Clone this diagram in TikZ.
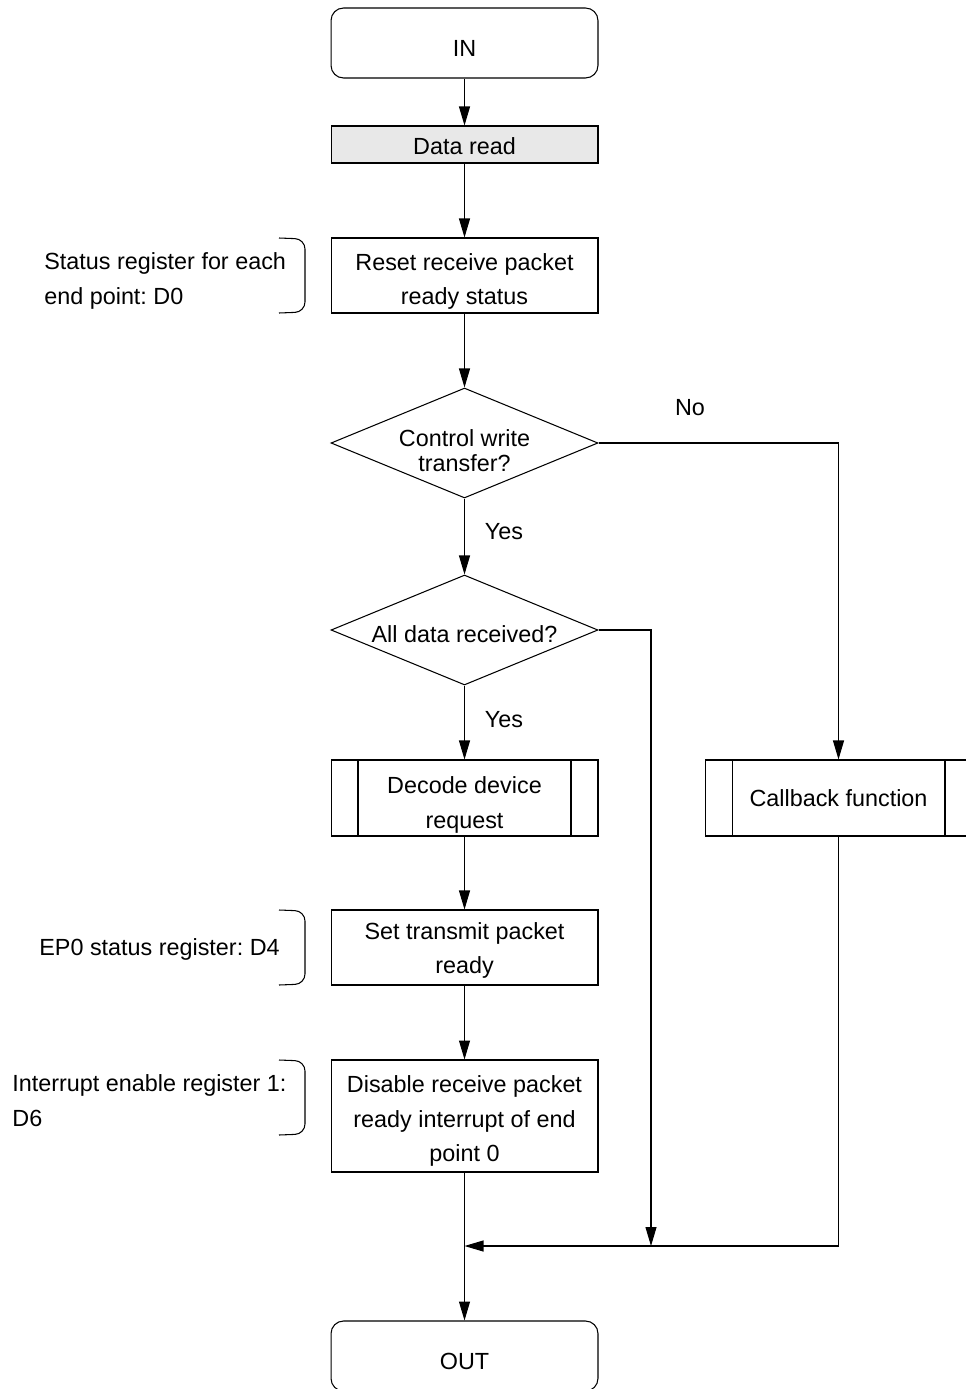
\documentclass[tikz,border=0pt]{standalone}
\usepackage{fontspec}
\setmainfont{Liberation Sans}
\usetikzlibrary{positioning}
\usetikzlibrary{arrows.meta}
\usetikzlibrary{shapes.geometric}
\definecolor{readgray}{RGB}{232,232,232}
\newcommand{\lifted}[1]{\rule{0pt}{#1}}

\begin{document}
\frenchspacing
\begin{tikzpicture}[x=0.02cm, y=-0.02cm, line width=0.6pt, >={Triangle[length=0.38cm,width=0.22cm]},
lift/.style={execute at begin node={\lifted{#1}}},
term/.style={draw, rectangle, rounded corners=0.25cm, minimum width=5.34cm, minimum height=1.4cm, lift=1.15em, font=\fontsize{13.3}{19.8}\selectfont},
box/.style={draw, rectangle, minimum width=5.34cm, minimum height=#1, inner sep=1pt, align=center, font=\fontsize{13.3}{19.8}\selectfont},
sub/.style={box=#1, path picture={
  \draw ([xshift=0.54cm]path picture bounding box.north west) -- ([xshift=0.54cm]path picture bounding box.south west);
  \draw ([xshift=-0.54cm]path picture bounding box.north east) -- ([xshift=-0.54cm]path picture bounding box.south east);}},
dec/.style={draw, diamond, shape aspect=2.43, minimum width=5.34cm, minimum height=2.2cm, inner sep=-3pt, align=center, font=\fontsize{13.3}{14.2}\selectfont},
note/.style={anchor=west, align=left, font=\fontsize{13.3}{19.8}\selectfont},
lbl/.style={font=\fontsize{13.3}{19.8}\selectfont}]

\useasboundingbox (0,0) rectangle (965,1389);

% main column
\node [term] (in) at (464.5,43) {IN};
\node [box=0.74cm, fill=readgray, lift=0.89em] (read) at (464.5,144.5) {Data read};
\node [box=1.5cm] (reset) at (464.5,275.5) {\lifted{1.23em}Reset receive packet\\ready status};
\node [dec] (ctrl) at (464.5,443) {\lifted{1.4em}Control write\\transfer?};
\node [dec, lift=1.06em] (alldata) at (464.5,630) {All data received?};
\node [sub=1.52cm] (decode) at (464.5,798) {\lifted{1.32em}Decode device\\request};
\node [box=1.5cm] (transmit) at (464.5,947.5) {\lifted{0.98em}Set transmit packet\\ready};
\node [box=2.24cm] (disable) at (464.5,1116) {\lifted{1.15em}Disable receive packet\\ready interrupt of end\\point 0};
\node [term] (out) at (464.5,1356) {OUT};

% right branch
\node [sub=1.52cm] (callback) at (838.5,798) {Callback function};

% labels
\node [lbl] (no) at (690,408) {No};
\node [lbl] (yes1) at (504,532) {Yes};
\node [lbl] (yes2) at (504,720) {Yes};

% notes
\node [note] (n1) at (38,279.5) {\lifted{0.85em}Status register for each\\end point: D0};
\node [note, lift=0.9em] (n2) at (33,947.5) {EP0 status register: D4};
\node [note] (n3) at (6,1100.5) {Interrupt enable register 1:\\D6};

\draw [rounded corners=0.2cm] (279,238) -- (305,239) -- (305,312) -- (279,313);
\draw [rounded corners=0.2cm] (279,910) -- (305,911) -- (305,984) -- (279,985);
\draw [rounded corners=0.2cm] (279,1060) -- (305,1061) -- (305,1134) -- (279,1135);

% joints
\coordinate (c1) at (838.5,443);
\coordinate (a1) at (651,630);
\coordinate (a2) at (651,1246);
\coordinate (b1) at (838.5,1246);
\coordinate (m) at (464.5,1246);

% flow
\draw [->] (in) -- (read);
\draw [->] (read) -- (reset);
\draw [->] (reset) -- (ctrl);
\draw [->] (ctrl) -- (alldata);
\draw [->] (alldata) -- (decode);
\draw [->] (decode) -- (transmit);
\draw [->] (transmit) -- (disable);
\draw [->] (disable) -- (out);

\draw [->] (ctrl.east) -- (c1) -- (callback);
\draw [->] (alldata.east) -- (a1) -- (a2);
\draw [->] (callback) -- (b1) -- (m);

\end{tikzpicture}
\end{document}
